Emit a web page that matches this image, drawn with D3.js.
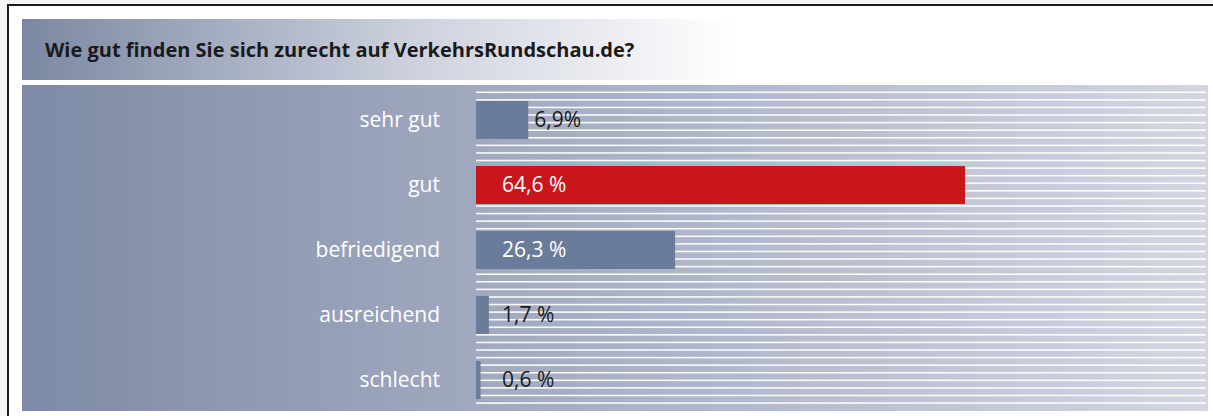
<!DOCTYPE html>
<html>
<head>
<meta charset="utf-8">
<script src="https://cdn.jsdelivr.net/npm/d3@7"></script>
<style>
  html, body { margin: 0; padding: 0; background: #f3f4f3; }
  svg { display: block; }
</style>
</head>
<body>
<div id="chart"></div>
<script>
// survey result: Wie gut finden Sie sich zurecht
const categories = ["sehr gut", "gut", "befriedigend", "ausreichend", "schlecht"];
const values = [6.9, 64.6, 26.3, 1.7, 0.6];
const value_labels = ["6,9%", "64,6 %", "26,3 %", "1,7 %", "0,6 %"];
const highlight = "gut";
const title = "Wie gut finden Sie sich zurecht auf VerkehrsRundschau.de?";

const width = 1213;
const height = 416;
const bar_x0 = 476;
const font = "'Open Sans', 'Noto Sans', sans-serif";

const svg = d3.select("#chart").append("svg")
	.attr("width", width)
	.attr("height", height);

const defs = svg.append("defs");

let title_grad = defs.append("linearGradient").attr("id", "title_grad");
title_grad.append("stop").attr("offset", "0%").attr("stop-color", "#7b88a3");
title_grad.append("stop").attr("offset", "33%").attr("stop-color", "#cdd1dd");
title_grad.append("stop").attr("offset", "60%").attr("stop-color", "#ffffff");
title_grad.append("stop").attr("offset", "100%").attr("stop-color", "#ffffff");

let panel_grad = defs.append("linearGradient").attr("id", "panel_grad");
panel_grad.append("stop").attr("offset", "0%").attr("stop-color", "#7e8ba6");
panel_grad.append("stop").attr("offset", "40%").attr("stop-color", "#a2aac0");
panel_grad.append("stop").attr("offset", "100%").attr("stop-color", "#d3d6e2");

// white frame with black border
svg.append("rect")
	.attr("x", 8)
	.attr("y", 5)
	.attr("width", width)
	.attr("height", height)
	.attr("fill", "#ffffff")
	.attr("stroke", "#1a1a1a")
	.attr("stroke-width", 2);

// title panel
svg.append("rect")
	.attr("x", 22)
	.attr("y", 19)
	.attr("width", 1186)
	.attr("height", 61)
	.attr("fill", "url(#title_grad)");

svg.append("text")
	.attr("x", 45)
	.attr("y", 57)
	.attr("font-family", font)
	.attr("font-weight", "bold")
	.attr("font-size", 20)
	.attr("fill", "#1a1a1a")
	.text(title);

// main panel
svg.append("rect")
	.attr("x", 22)
	.attr("y", 85)
	.attr("width", 1186)
	.attr("height", 326)
	.attr("fill", "url(#panel_grad)");

// stripes
const stripes = d3.range(42).map(i => 92.3 + i * 7.58);
svg.append("g").selectAll("rect")
	.data(stripes)
	.join("rect")
	.attr("x", bar_x0)
	.attr("y", d => d - 0.8)
	.attr("width", 1206 - bar_x0)
	.attr("height", 1.6)
	.attr("fill", "#ffffff")
	.attr("opacity", 0.92);

const x = d3.scaleLinear().domain([0, 100]).range([0, 757]);
const y = d3.scaleBand()
	.domain(categories)
	.range([87.5, 412.5])
	.paddingInner(0.415)
	.paddingOuter(0.2075);

const rows = categories.map((c, i) => ({ cat: c, value: values[i], label: value_labels[i] }));

svg.append("g").selectAll("rect")
	.data(rows)
	.join("rect")
	.attr("x", bar_x0)
	.attr("y", d => y(d.cat))
	.attr("width", d => x(d.value))
	.attr("height", y.bandwidth())
	.attr("fill", d => d.cat === highlight ? "#c8161b" : "#6a7c99");

// category labels
svg.append("g").selectAll("text")
	.data(rows)
	.join("text")
	.attr("x", 440)
	.attr("y", d => y(d.cat) + y.bandwidth() / 2 + 7)
	.attr("text-anchor", "end")
	.attr("font-family", font)
	.attr("font-size", 21)
	.attr("fill", "#ffffff")
	.text(d => d.cat);

// value labels: inside long bars, after short ones
svg.append("g").selectAll("text")
	.data(rows)
	.join("text")
	.attr("x", d => d.value > 10 ? bar_x0 + 26 : Math.max(bar_x0 + 26, bar_x0 + x(d.value) + 6))
	.attr("y", d => y(d.cat) + y.bandwidth() / 2 + 7)
	.attr("font-family", font)
	.attr("font-size", 21)
	.attr("fill", d => d.value > 10 ? "#ffffff" : "#1a1a1a")
	.text(d => d.label);
</script>
</body>
</html>
